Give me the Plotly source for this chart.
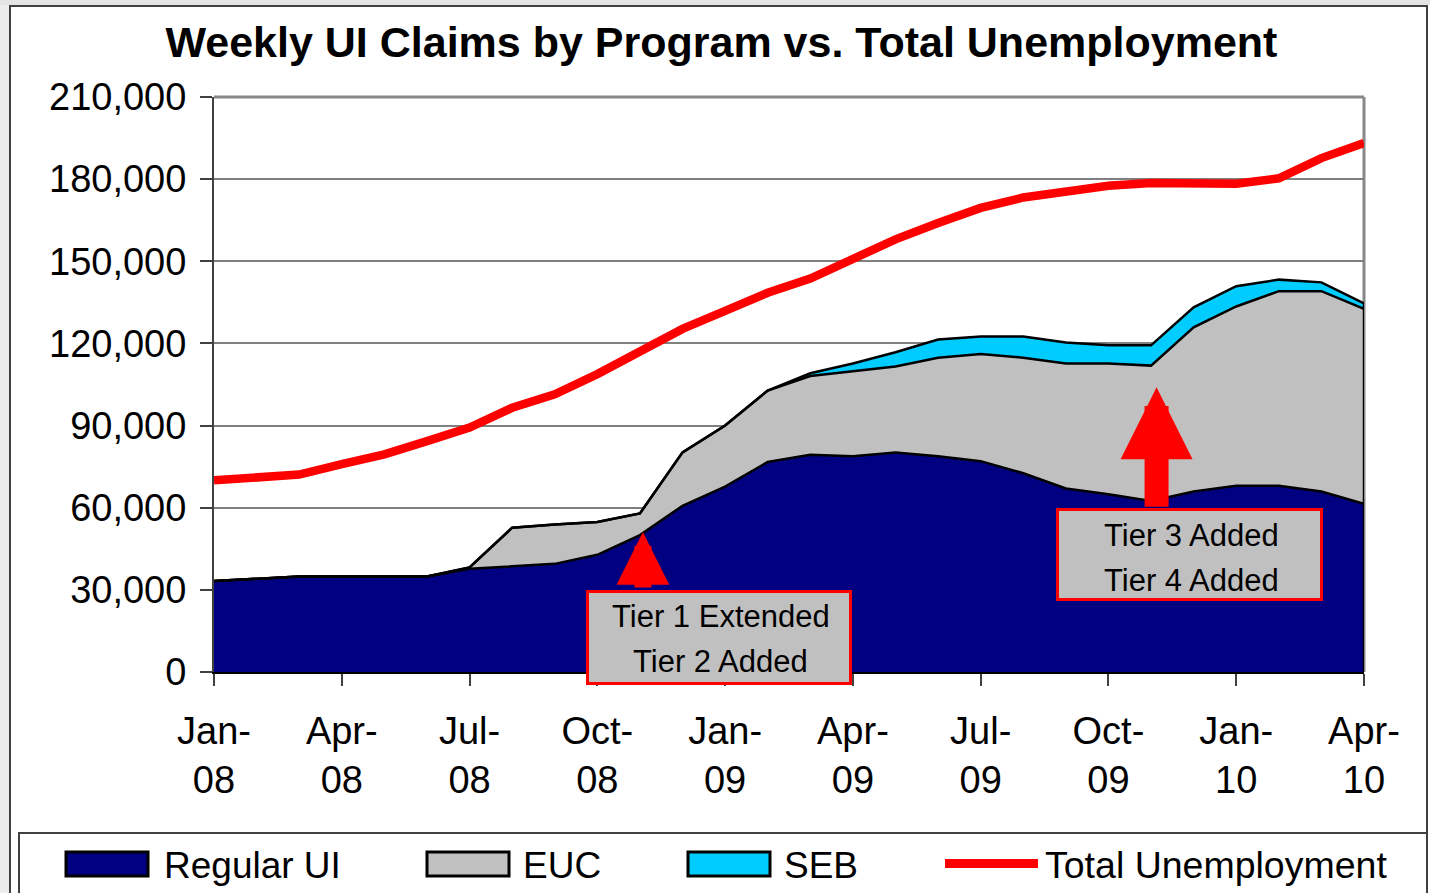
import plotly.graph_objects as go

# monthly data, values
months = ["Jan-08", "Feb-08", "Mar-08", "Apr-08", "May-08", "Jun-08", "Jul-08",
          "Aug-08", "Sep-08", "Oct-08", "Nov-08", "Dec-08", "Jan-09", "Feb-09",
          "Mar-09", "Apr-09", "May-09", "Jun-09", "Jul-09", "Aug-09", "Sep-09",
          "Oct-09", "Nov-09", "Dec-09", "Jan-10", "Feb-10", "Mar-10", "Apr-10"]

regular_ui = [33200, 34000, 34900, 34900, 34900, 34900, 37700, 38500, 39500, 42800,
              50000, 60700, 67700, 76700, 79300, 78800, 80200, 78800, 77000, 72600,
              67000, 64900, 62500, 65900, 68000, 68000, 65900, 61400]

euc = [0, 0, 0, 0, 0, 0, 500, 14200, 14400, 12000,
       7900, 19500, 22300, 26100, 28800, 31000, 31400, 36000, 39100, 42200,
       45700, 47800, 49400, 60000, 65500, 71100, 73200, 71200]

seb = [0, 0, 0, 0, 0, 0, 0, 0, 0, 0,
       0, 0, 0, 0, 1000, 2900, 5200, 6600, 6400, 7700,
       7600, 6600, 7400, 7300, 7400, 4200, 3200, 2000]

total_unemployment = [70000, 71000, 72100, 75900, 79500, 84300, 89300, 96500, 101400, 108800,
                      117200, 125300, 131900, 138500, 143700, 150700, 158000, 164000, 169500, 173300,
                      175500, 177600, 178600, 178600, 178300, 180300, 187700, 193200]

y_ticks = [0, 30000, 60000, 90000, 120000, 150000, 180000, 210000]
x_ticks = months[::3]
x_ticktext = [m.replace("-", "-<br>") for m in x_ticks]

FONT = "Liberation Sans, Arial, sans-serif"

# plot area in pixels
L, R, T, B = 214, 1364, 97, 672
W, H = 1430, 893


def px_x(px):
    return (px - L) / (R - L)


def px_y(py):
    return (B - py) / (B - T)


fig = go.Figure()

for name, vals, color in [("Regular UI", regular_ui, "#000080"),
                          ("EUC", euc, "#C0C0C0"),
                          ("SEB", seb, "#00CCFF")]:
    fig.add_trace(go.Scatter(
        x=months, y=vals, name=name, mode="lines",
        stackgroup="claims",
        line=dict(color="black", width=2.5),
        fillcolor=color,
        showlegend=False,
    ))

fig.add_trace(go.Scatter(
    x=months, y=total_unemployment, name="Total Unemployment", mode="lines",
    line=dict(color="#FF0000", width=8.5),
    showlegend=False,
))

last_stack = regular_ui[-1] + euc[-1] + seb[-1]

shapes = [
    # outer frame bits
    dict(type="rect", xref="paper", yref="paper", x0=px_x(0), x1=px_x(9), y0=px_y(0), y1=px_y(H),
         fillcolor="#ececec", line=dict(width=0), layer="below"),
    dict(type="rect", xref="paper", yref="paper", x0=px_x(0), x1=px_x(W), y0=px_y(0), y1=px_y(5),
         fillcolor="#e4e4e4", line=dict(width=0), layer="below"),
    dict(type="rect", xref="paper", yref="paper", x0=px_x(10), x1=px_x(1427), y0=px_y(6), y1=px_y(905),
         line=dict(color="#404040", width=2)),
    # legend box
    dict(type="rect", xref="paper", yref="paper", x0=px_x(19), x1=px_x(1427), y0=px_y(833), y1=px_y(905),
         line=dict(color="#404040", width=2)),
    # plot border top / right
    dict(type="line", xref="paper", yref="paper", x0=0, x1=1, y0=1, y1=1,
         line=dict(color="#888888", width=3)),
    dict(type="line", xref="paper", yref="paper", x0=1, x1=1, y0=0, y1=1,
         line=dict(color="#888888", width=3), layer="below"),
    # right edge of the stacked areas
    dict(type="line", xref="x", yref="y", x0=len(months) - 1, x1=len(months) - 1, y0=0, y1=last_stack,
         line=dict(color="black", width=2.5)),
]

annotations = [
    # arrows
    dict(x=10.07, y=51100, xref="x", yref="y", text="", showarrow=True,
         arrowhead=2, arrowsize=0.62, arrowwidth=17, arrowcolor="#FF0000", ax=0, ay=57),
    dict(x=22.13, y=104000, xref="x", yref="y", text="", showarrow=True,
         arrowhead=2, arrowsize=0.6, arrowwidth=24, arrowcolor="#FF0000", ax=0, ay=121),
]

# callout boxes: (lines, box center x, box center y, box w, box h, line centers y)
callouts = [
    (["Tier 1 Extended", "Tier 2 Added"], 718.5, 637, 260, 89, [616, 661]),
    (["Tier 3 Added", "Tier 4 Added"], 1189.5, 554, 261, 87, [535, 580]),
]
for lines, cx, cy, bw, bh, ly in callouts:
    annotations.append(dict(x=px_x(cx), y=px_y(cy), xref="paper", yref="paper", text=" ",
                            xanchor="center", yanchor="middle",
                            showarrow=False, width=bw, height=bh, bgcolor="#C0C0C0",
                            bordercolor="#FF0000", borderwidth=3, borderpad=0))
    for txt, y in zip(lines, ly):
        annotations.append(dict(x=px_x(cx + 2), y=px_y(y), xref="paper", yref="paper", text=txt,
                                showarrow=False, xanchor="center", yanchor="middle",
                                font=dict(family=FONT, size=31, color="black")))

# hand drawn legend
legend_items = [("Regular UI", "#000080", 66, 162),
                ("EUC", "#C0C0C0", 427, 521),
                ("SEB", "#00CCFF", 688, 782)]
for name, color, sx, tx in legend_items:
    shapes.append(dict(type="rect", xref="paper", yref="paper",
                       x0=px_x(sx), x1=px_x(sx + 82), y0=px_y(852), y1=px_y(876),
                       fillcolor=color, line=dict(color="black", width=3)))
    annotations.append(dict(x=px_x(tx), y=px_y(865), xref="paper", yref="paper", text=name,
                            showarrow=False, xanchor="left", yanchor="middle",
                            font=dict(family=FONT, size=37, color="black")))
shapes.append(dict(type="line", xref="paper", yref="paper", x0=px_x(945), x1=px_x(1038),
                   y0=px_y(863.5), y1=px_y(863.5), line=dict(color="#FF0000", width=9)))
annotations.append(dict(x=px_x(1043), y=px_y(865), xref="paper", yref="paper",
                        text="Total Unemployment", showarrow=False, xanchor="left", yanchor="middle",
                        font=dict(family=FONT, size=37.5, color="black")))

fig.update_layout(
    width=W, height=H,
    margin=dict(l=L, r=W - R, t=T, b=H - B),
    paper_bgcolor="white",
    plot_bgcolor="white",
    font=dict(family=FONT, color="black"),
    title=dict(text="<b>Weekly UI Claims by Program vs. Total Unemployment</b>",
               x=0.5045, xref="container", xanchor="center",
               y=1 - 42 / H, yanchor="middle",
               font=dict(family=FONT, size=43, color="black")),
    xaxis=dict(type="category", range=[0, len(months) - 1],
               tickmode="array", tickvals=x_ticks, ticktext=x_ticktext,
               ticks="outside", ticklen=12, tickwidth=2, tickcolor="#404040",
               showline=True, linecolor="black", linewidth=2,
               showgrid=False, zeroline=False,
               tickfont=dict(family=FONT, size=38), ticklabelstandoff=12),
    yaxis=dict(range=[0, 210000], tickmode="array", tickvals=y_ticks,
               tickformat=",", ticks="outside", ticklen=12, tickwidth=2, tickcolor="#404040",
               showline=True, linecolor="#404040", linewidth=2,
               gridcolor="#808080", gridwidth=1.5, zeroline=False,
               tickfont=dict(family=FONT, size=38), ticklabelstandoff=6),
    shapes=shapes,
    annotations=annotations,
    showlegend=False,
)

# page body has a default 8px margin; drop it so the figure fills the window
fig.write_html("out.html", config={"displayModeBar": False},
               post_script="document.body.style.margin = '0';")
